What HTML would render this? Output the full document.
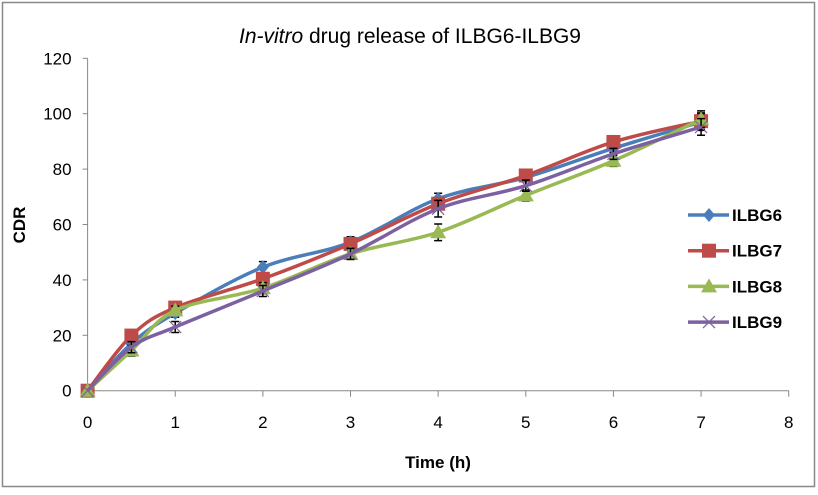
<!DOCTYPE html>
<html><head><meta charset="utf-8"><style>
html,body{margin:0;padding:0;background:#fff}
svg text{font-family:"Liberation Sans",Arial,sans-serif}
</style></head><body>
<svg id="chart" width="818" height="490" viewBox="0 0 818 490" xmlns="http://www.w3.org/2000/svg">
<rect x="2.5" y="2.5" width="812" height="484" fill="#fff" stroke="#888" stroke-width="1.5"/>
<text x="410" y="43" font-size="21" text-anchor="middle"><tspan font-style="italic">In-vitro</tspan> drug release of ILBG6-ILBG9</text>
<text transform="translate(25,225) rotate(-90)" font-size="17" font-weight="bold" text-anchor="middle">CDR</text>
<text x="438" y="468" font-size="17" font-weight="bold" text-anchor="middle">Time (h)</text>
<g id="axes"></g>
<g id="series"></g>
<g id="legend"></g>
</svg>
<script>
const xTicks=[0,1,2,3,4,5,6,7,8];
const yTicks=[0,20,40,60,80,100,120];
const times=[0,0.5,1,2,3,4,5,6,7];
const seriesNames=["ILBG6","ILBG7","ILBG8","ILBG9"];
const ilbg6=[0,17,28,44.6,53.6,69.3,77,87.5,97];
const ilbg7=[0,19.9,30,40.4,53,67.5,77.7,89.8,97.3];
const ilbg8=[0,14.5,29,37,49.4,57.2,70.5,83,98];
const ilbg9=[0,15.7,23,36,49.4,65.7,74,85.5,95.2];
const errs6=[0,1.5,1.5,2,2,2,1.5,1.5,3];
const errs7=[0,1.5,1.5,2,2,2,2,2,3];
const errs8=[0,2,1.5,2,2,3,2,2,3];
const errs9=[0,2,2,2,2,3,2,2,3];
const colors=["#4a7ebb","#be4b48","#98b954","#7d60a0"];
const NS="http://www.w3.org/2000/svg";
const X=v=>87.6+v*(788.7-87.6)/8;
const Y=v=>390.7-v*(390.7-58.3)/120;
function mk(tag,attrs,parent){const e=document.createElementNS(NS,tag);for(const k in attrs)e.setAttribute(k,attrs[k]);parent.appendChild(e);return e;}
const axes=document.getElementById('axes');
let a=mk('line',{x1:X(0),y1:Y(0),x2:X(0),y2:Y(120),stroke:'#888','stroke-width':1},axes);

a=mk('line',{x1:X(0),y1:Y(0),x2:X(8),y2:Y(0),stroke:'#888','stroke-width':1},axes);

yTicks.forEach(t=>{const l=mk('line',{x1:X(0)-5,y1:Y(t),x2:X(0),y2:Y(t),stroke:'#888'},axes);

const tx=mk('text',{x:X(0)-16,y:Y(t)+6,'font-size':17,'text-anchor':'end'},axes);tx.textContent=t;
});
xTicks.forEach(t=>{const l=mk('line',{x1:X(t),y1:Y(0),x2:X(t),y2:Y(0)+6,stroke:'#888'},axes);

const tx=mk('text',{x:X(t),y:428,'font-size':17,'text-anchor':'middle'},axes);tx.textContent=t;
});
function smooth(pts){let d=`M${pts[0][0]},${pts[0][1]}`;for(let i=0;i<pts.length-1;i++){const p0=pts[Math.max(0,i-1)],p1=pts[i],p2=pts[i+1],p3=pts[Math.min(pts.length-1,i+2)];const t=1/6;
d+=` C${p1[0]+(p2[0]-p0[0])*t},${p1[1]+(p2[1]-p0[1])*t} ${p2[0]-(p3[0]-p1[0])*t},${p2[1]-(p3[1]-p1[1])*t} ${p2[0]},${p2[1]}`;}return d;}
function marker(i,cx,cy,g){let m;
if(i===0)m=mk('polygon',{points:`${cx},${cy-7} ${cx+6},${cy} ${cx},${cy+7} ${cx-6},${cy}`,fill:colors[0]},g);
else if(i===1)m=mk('rect',{x:cx-7,y:cy-7,width:14,height:14,fill:colors[1]},g);
else if(i===2)m=mk('polygon',{points:`${cx},${cy-8} ${cx+8},${cy+6} ${cx-8},${cy+6}`,fill:colors[2]},g);
else{m=mk('path',{d:`M${cx-6},${cy-6}L${cx+6},${cy+6}M${cx+6},${cy-6}L${cx-6},${cy+6}`,stroke:colors[3],'stroke-width':1.2,fill:'none'},g);}
return m;}
const sg=document.getElementById('series');
const all=[ilbg6,ilbg7,ilbg8,ilbg9],errs=[errs6,errs7,errs8,errs9];
all.forEach((vals,i)=>{const g=mk('g',{},sg);

errs[i].forEach((e,j)=>{if(!e)return;const x=X(times[j]);
const eb=mk('path',{d:`M${x},${Y(vals[j]-e)}V${Y(vals[j]+e)}M${x-4},${Y(vals[j]-e)}H${x+4}M${x-4},${Y(vals[j]+e)}H${x+4}`,stroke:'#000','stroke-width':1.5,fill:'none'},g);
});
const pts=vals.map((v,j)=>[X(times[j]),Y(v)]);
const p=mk('path',{d:smooth(pts),stroke:colors[i],'stroke-width':3.5,fill:'none'},g);

pts.forEach(pt=>{const m=marker(i,pt[0],pt[1],g);});});
const lg=document.getElementById('legend');
seriesNames.forEach((n,i)=>{const y=215+i*35.7;const g=mk('g',{},lg);

mk('line',{x1:688,y1:y,x2:729,y2:y,stroke:colors[i],'stroke-width':3.5},g);
marker(i,709,y,g);
const t=mk('text',{x:732,y:y+6,'font-size':17,'font-weight':'bold'},g);t.textContent=n;});
</script>
</body></html>
